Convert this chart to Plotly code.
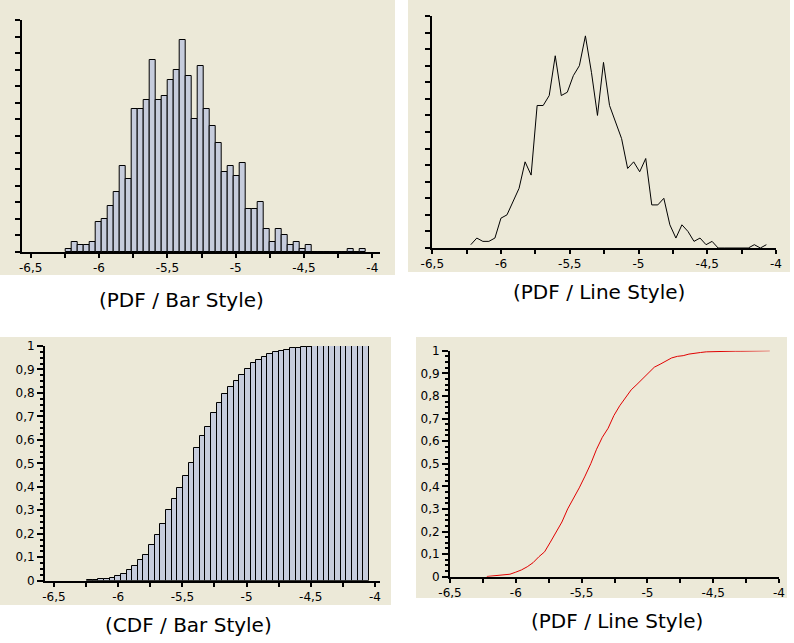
import numpy as np
import plotly.graph_objects as go

# ---- data ----
data_min = -6.242
data_max = -4.048
n_bins = 50
counts = [1, 3, 2, 2, 3, 9, 10, 14, 18, 26,
          22, 43, 43, 46, 58, 46, 47, 52, 55, 64,
          53, 40, 56, 43, 38, 33, 24, 26, 23, 27,
          13, 13, 15, 7, 3, 7, 5, 2, 3, 1,
          2, 0, 0, 0, 0, 0, 0, 1, 0, 1]
x_tick_vals = [-6.5, -6, -5.5, -5, -4.5, -4]
x_tick_text = ["-6,5", "-6", "-5,5", "-5", "-4,5", "-4"]
titles = ["(PDF / Bar Style)", "(PDF / Line Style)", "(CDF / Bar Style)", "(PDF / Line Style)"]

bin_width = (data_max - data_min) / n_bins
centers = [data_min + bin_width * (i + 0.5) for i in range(n_bins)]
total = sum(counts)
cdf = list(np.cumsum(counts) / total)

W, H = 794, 643
BG = "#ECE9D8"
BAR = "#C6CCDC"
FONT = "DejaVu Sans"

def px(x):
    return x / W

def py(y):
    return 1 - y / H

fig = go.Figure()

fig.add_trace(go.Bar(x=centers, y=counts, width=bin_width, marker=dict(color=BAR, line=dict(color="black", width=1)),
                     xaxis="x", yaxis="y", showlegend=False))
fig.add_trace(go.Scatter(x=centers, y=counts, mode="lines", line=dict(color="black", width=1),
                         xaxis="x2", yaxis="y2", showlegend=False))
fig.add_trace(go.Bar(x=centers, y=cdf, width=bin_width, marker=dict(color=BAR, line=dict(color="black", width=1)),
                     xaxis="x3", yaxis="y3", showlegend=False))
fig.add_trace(go.Scatter(x=centers, y=cdf, mode="lines", line=dict(color="#E00000", width=1),
                         xaxis="x4", yaxis="y4", showlegend=False))

def xax(dom, rng, anchor):
    return dict(domain=dom, range=rng, anchor=anchor, showgrid=False, zeroline=False,
                showline=True, linecolor="black", linewidth=2, automargin=False,
                ticks="outside", ticklen=4, tickwidth=2, tickcolor="black",
                tickmode="array", tickvals=x_tick_vals, ticktext=x_tick_text,
                minor=dict(tickmode="linear", tick0=-6.5, dtick=0.25, ticks="outside",
                           ticklen=4, tickwidth=2, tickcolor="black"),
                tickfont=dict(family=FONT, size=12, color="black"), fixedrange=True)

def yax_pdf(dom, anchor):
    return dict(domain=dom, range=[0, 70], anchor=anchor, showgrid=False, zeroline=False,
                showline=True, linecolor="black", linewidth=2, automargin=False,
                ticks="outside", ticklen=5, tickwidth=2, tickcolor="black",
                tickmode="linear", tick0=0, dtick=5, showticklabels=False, fixedrange=True)

def yax_cdf(dom, anchor):
    return dict(domain=dom, range=[0, 1], anchor=anchor, showgrid=False, zeroline=False,
                showline=True, linecolor="black", linewidth=2, automargin=False,
                ticks="outside", ticklen=6, tickwidth=2, tickcolor="black",
                tickmode="linear", tick0=0, dtick=0.1,
                minor=dict(tickmode="linear", tick0=0, dtick=0.025, ticks="outside",
                           ticklen=3, tickwidth=2, tickcolor="black"),
                tickfont=dict(family=FONT, size=12, color="black"), fixedrange=True)

layout = dict(
    width=W, height=H, margin=dict(l=0, r=0, t=0, b=0, pad=0, autoexpand=False),
    paper_bgcolor="white", plot_bgcolor="rgba(0,0,0,0)",
    separators=",.", bargap=0, showlegend=False,
    font=dict(family=FONT, color="black"),
    xaxis=xax([px(21.7), px(380)], [-6.5659, -3.9436], "y"),
    yaxis=yax_pdf([py(252), py(20)], "x"),
    xaxis2=xax([px(432.3), px(776)], [-6.5, -4.0], "y2"),
    yaxis2=yax_pdf([py(248), py(16)], "x2"),
    xaxis3=xax([px(45), px(380)], [-6.570, -3.961], "y3"),
    yaxis3=yax_cdf([py(580.7), py(346)], "x3"),
    xaxis4=xax([px(450), px(779)], [-6.5, -4.0], "y4"),
    yaxis4=yax_cdf([py(576.7), py(350.7)], "x4"),
)
fig.update_layout(**layout)

bg_rects = [(0, 0, 395, 275), (408, 0, 790, 272), (0, 337, 391, 605), (416, 337, 787, 598)]
for x0, y0, x1, y1 in bg_rects:
    fig.add_shape(type="rect", xref="paper", yref="paper", x0=px(x0), x1=px(x1), y0=py(y1), y1=py(y0),
                  fillcolor=BG, line=dict(width=0), layer="below")

title_pos = [(181, 300), (599, 292), (188, 625), (617, 621)]
for t, (cx, cy) in zip(titles, title_pos):
    fig.add_annotation(text=t, xref="paper", yref="paper", x=px(cx), y=py(cy), showarrow=False,
                       xanchor="center", yanchor="middle", font=dict(family=FONT, size=20, color="black"))

fig.write_html("out.html", config={"displayModeBar": False})
